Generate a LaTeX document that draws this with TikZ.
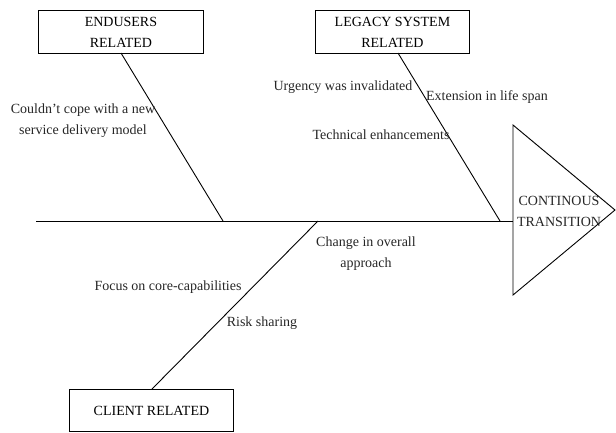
\documentclass[tikz,border=0pt]{standalone}
\usepackage{fontspec}
\setmainfont{Liberation Serif}
\begin{document}
\begin{tikzpicture}[x=1pt,y=-1pt,
  every node/.style={font=\fontsize{14}{21}\selectfont, inner sep=0pt},
  catbox/.style={draw, line width=0.9pt, minimum width=165pt, minimum height=43pt, align=center, anchor=north west},
  bone/.style={line width=0.9pt},
  cause/.style={align=center, text=black!85}]
\useasboundingbox (0,0) rectangle (616,432);
% category boxes
\node[catbox] (endu) at (38,10) {ENDUSERS\\RELATED};
\node[catbox, minimum width=154pt] (legacy) at (315,10) {LEGACY SYSTEM\\RELATED};
\node[catbox, minimum width=164pt, minimum height=42pt] (client) at (69,389) {CLIENT RELATED};
% spine
\coordinate (tail) at (36,221);
\coordinate (head) at (513,221);
\coordinate (j1) at (223,221);
\coordinate (j2) at (500,221);
\coordinate (j3) at (318,221);
\draw[bone] (tail) -- (head);
% triangle head
\coordinate (t1) at (513,125);
\coordinate (t2) at (615,210);
\coordinate (t3) at (513,295);
\draw[bone] (t1) -- (t2) -- (t3) -- cycle;
\node[cause] (effect) at (559,211) {CONTINOUS\\TRANSITION};
% bone ends on the boxes
\coordinate (e0) at (121,53);
\coordinate (l0) at (398,53);
\coordinate (c0) at (152,389);
\draw[bone] (e0) -- (j1);
\draw[bone] (l0) -- (j2);
\draw[bone] (j3) -- (c0);
% causes
\node[cause] (c1) at (83,121) {Couldn't cope with a new\\service delivery model};
\node[cause] (c2) at (343,87) {Urgency was invalidated};
\node[cause] (c3) at (487,97) {Extension in life span};
\node[cause] (c4) at (381,135) {Technical enhancements};
\node[cause] (c5) at (366,254) {Change in overall\\approach};
\node[cause] (c6) at (168,287) {Focus on core-capabilities};
\node[cause] (c7) at (262,323) {Risk sharing};
\end{tikzpicture}
\end{document}
